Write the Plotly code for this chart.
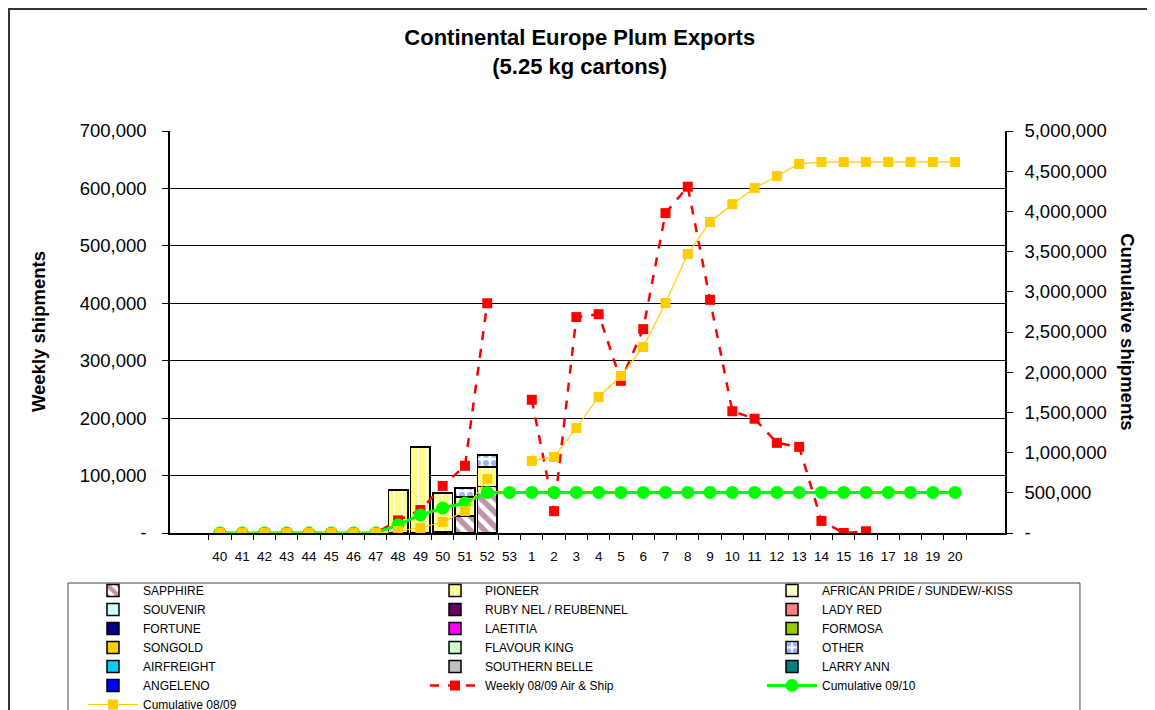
import plotly.graph_objects as go

# week labels (season 2009/10)
weeks = [str(w) for w in range(40, 54)] + [str(w) for w in range(1, 21)]

# stacked varieties, weekly cartons 09/10 (weeks 40..53, 1..20)
sapphire = [None, None, None, None, None, None, None, None, None, None, 2000, 30000, 81000, None,
            None, None, None, None, None, None, None, None, None, None, None, None, None, None, None, None, None, None, None, None]
pioneer = [None, None, None, None, None, None, None, None, 75000, 150000, 68000, 33000, 34000, None,
           None, None, None, None, None, None, None, None, None, None, None, None, None, None, None, None, None, None, None, None]
other = [None, None, None, None, None, None, None, None, None, None, None, 15000, 21000, None,
         None, None, None, None, None, None, None, None, None, None, None, None, None, None, None, None, None, None, None, None]
# varieties with no shipments yet (legend entry only)
no_shipments = [None]

weekly_0809 = [0, 0, 0, 0, 0, 0, 0, 0, 22000, 40000, 82000, 117000, 400000, None,
               232000, 38000, 376000, 381000, 265000, 355000, 557000, 603000, 406000, 212000,
               199000, 157000, 150000, 21000, 0, 3000, None, None, None, None]
cumulative_0809 = [0, 0, 0, 0, 0, 0, 0, 0, 25000, 62000, 137000, 274000, 672000, None,
                   896000, 945000, 1306000, 1692000, 1953000, 2313000, 2861000, 3470000, 3868000, 4090000,
                   4290000, 4440000, 4590000, 4614000, 4615000, 4615000, 4615000, 4615000, 4615000, 4615000]
cumulative_0910 = [0, 0, 0, 0, 0, 0, 0, 0, 100000, 224000, 311000, 373000, 505000, 505000,
                   505000, 505000, 505000, 505000, 505000, 505000, 505000, 505000, 505000, 505000,
                   505000, 505000, 505000, 505000, 505000, 505000, 505000, 505000, 505000, 505000]

left_ticks = [0, 100000, 200000, 300000, 400000, 500000, 600000, 700000]
left_text = ["-", "100,000", "200,000", "300,000", "400,000", "500,000", "600,000", "700,000"]
right_ticks = [0, 500000, 1000000, 1500000, 2000000, 2500000, 3000000, 3500000, 4000000, 4500000, 5000000]
right_text = ["-", "500,000", "1,000,000", "1,500,000", "2,000,000", "2,500,000", "3,000,000",
              "3,500,000", "4,000,000", "4,500,000", "5,000,000"]

FONT = "Liberation Sans, Arial, sans-serif"

fig = go.Figure()


def add_bar(name, values, color, legend, pattern=None):
    fig.add_trace(
        go.Bar(
            x=weeks[:len(values)],
            y=values,
            name=name,
            legend=legend,
            marker=dict(
                color=color,
                line=dict(color="black", width=1.5),
                pattern=pattern,
            ),
        )
    )


add_bar("SAPPHIRE", sapphire, "white", "legend",
        dict(shape="\\", fgcolor="#7F2A58", bgcolor="white", size=10, solidity=0.55))
add_bar("PIONEER", pioneer, "white", "legend2",
        dict(shape="|", fgcolor="#FFFF00", bgcolor="white", size=8, solidity=0.75))
add_bar("AFRICAN PRIDE / SUNDEW/-KISS", no_shipments, "#FFFFCC", "legend3")
add_bar("SOUVENIR", no_shipments, "#CCFFFF", "legend")
add_bar("RUBY NEL / REUBENNEL", no_shipments, "#660066", "legend2")
add_bar("LADY RED", no_shipments, "#FF8080", "legend3")
add_bar("FORTUNE", no_shipments, "#000080", "legend")
add_bar("LAETITIA", no_shipments, "#FF00FF", "legend2")
add_bar("FORMOSA", no_shipments, "#99CC00", "legend3")
add_bar("SONGOLD", no_shipments, "#FFCC00", "legend")
add_bar("FLAVOUR KING", no_shipments, "#CCFFCC", "legend2")
add_bar("OTHER", other, "white", "legend3",
        dict(shape=".", fgcolor="#3366FF", bgcolor="white", size=8, solidity=0.45))
add_bar("AIRFREIGHT", no_shipments, "#00CCFF", "legend")
add_bar("SOUTHERN BELLE", no_shipments, "#C0C0C0", "legend2")
add_bar("LARRY ANN", no_shipments, "#008080", "legend3")
add_bar("ANGELENO", no_shipments, "#0000FF", "legend")

fig.add_trace(
    go.Scatter(
        x=weeks,
        y=weekly_0809,
        name="Weekly 08/09 Air & Ship",
        legend="legend2",
        mode="lines+markers",
        line=dict(color="#FF0000", width=2.5, dash="dash"),
        marker=dict(symbol="square", size=10, color="#FF0000"),
        connectgaps=False,
    )
)
fig.add_trace(
    go.Scatter(
        x=weeks,
        y=cumulative_0910,
        name="Cumulative 09/10",
        legend="legend3",
        yaxis="y2",
        mode="lines+markers",
        line=dict(color="#00FF00", width=3),
        marker=dict(symbol="circle", size=13, color="#00FF00"),
    )
)
fig.add_trace(
    go.Scatter(
        x=weeks,
        y=cumulative_0809,
        name="Cumulative 08/09",
        legend="legend",
        yaxis="y2",
        mode="lines+markers",
        line=dict(color="#FFCC00", width=1.2),
        marker=dict(symbol="square", size=10, color="#FFCC00"),
        connectgaps=False,
    )
)


def legend_column(x):
    return dict(
        x=x,
        xanchor="left",
        y=-0.107,
        yanchor="top",
        orientation="v",
        itemwidth=50,
        traceorder="normal",
        bgcolor="rgba(0,0,0,0)",
        borderwidth=0,
        font=dict(size=12, family=FONT),
    )


# page body adds an 8px offset, margins are set to compensate;
# the figure runs past the 710px window so the legend box is cut like the original
fig.update_layout(
    width=1155,
    height=745,
    barmode="stack",
    bargap=0.12,
    paper_bgcolor="white",
    plot_bgcolor="white",
    font=dict(family=FONT, color="black", size=13),
    margin=dict(l=162, r=158, t=123, b=220),
    title=dict(
        text="<b>Continental Europe Plum Exports<br>(5.25 kg cartons)</b>",
        x=0.495,
        xref="container",
        xanchor="center",
        y=1 - 37 / 745,
        yanchor="middle",
        font=dict(size=22, family=FONT),
    ),
    xaxis=dict(
        type="category",
        categoryorder="array",
        categoryarray=weeks,
        tickson="boundaries",
        tickangle=0,
        ticks="outside",
        ticklen=5,
        tickcolor="black",
        showline=True,
        linecolor="black",
        linewidth=1.5,
        showgrid=False,
        tickfont=dict(size=13.5),
        ticklabelstandoff=10,
    ),
    yaxis=dict(
        range=[0, 700000],
        tickvals=left_ticks,
        ticktext=left_text,
        ticks="outside",
        ticklen=6,
        tickcolor="black",
        showline=True,
        linecolor="black",
        linewidth=1.5,
        showgrid=True,
        gridcolor="black",
        gridwidth=1,
        zeroline=False,
        tickfont=dict(size=18.5),
        ticklabelstandoff=12,
    ),
    yaxis2=dict(
        range=[0, 5000000],
        overlaying="y",
        side="right",
        tickvals=right_ticks,
        ticktext=right_text,
        ticks="outside",
        ticklen=6,
        tickcolor="black",
        showline=True,
        linecolor="black",
        linewidth=1.5,
        showgrid=False,
        zeroline=False,
        tickfont=dict(size=18.5),
        ticklabelstandoff=8,
    ),
    legend=legend_column(-0.1042),
    legend2=legend_column(0.3054),
    legend3=legend_column(0.7090),
    showlegend=True,
    annotations=[
        dict(
            text="<b>Weekly shipments</b>",
            xref="paper",
            yref="paper",
            x=-0.158,
            xanchor="center",
            y=0.5,
            textangle=-90,
            showarrow=False,
            font=dict(size=18.5, family=FONT),
        ),
        dict(
            text="<b>Cumulative shipments</b>",
            xref="paper",
            yref="paper",
            x=1.147,
            xanchor="center",
            y=0.5,
            textangle=90,
            showarrow=False,
            font=dict(size=18.5, family=FONT),
        ),
    ],
    shapes=[
        # chart frame
        dict(
            type="rect",
            xref="paper",
            yref="paper",
            x0=-0.1928,
            x1=1.3,
            y0=-0.6,
            y1=1.3035,
            line=dict(color="#333333", width=2),
            fillcolor="rgba(0,0,0,0)",
            layer="below",
        ),
        # legend frame
        dict(
            type="rect",
            xref="paper",
            yref="paper",
            x0=-0.1222,
            x1=1.0898,
            y0=-0.6,
            y1=-0.1244,
            line=dict(color="#444444", width=1),
            fillcolor="rgba(0,0,0,0)",
            layer="below",
        ),
    ],
)

fig.write_html("out.html")
